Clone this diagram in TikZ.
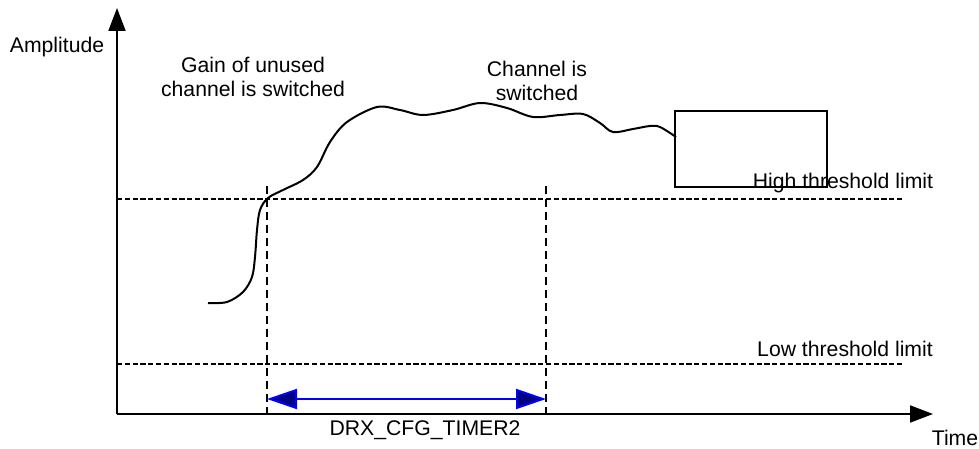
\documentclass[tikz,border=0pt]{standalone}
\usepackage{fontspec}
\setmainfont{Liberation Sans}
\usetikzlibrary{arrows.meta}
\definecolor{navyfill}{RGB}{0,0,128}
\begin{document}
\begin{tikzpicture}[x=0.5pt,y=-0.5pt,
  axis/.style={line width=1pt,-{Triangle[length=11.5pt,width=8.5pt]}},
  hlimit/.style={line width=1pt,dash pattern=on 2.6pt off 1.3pt},
  vlimit/.style={line width=1pt,dash pattern=on 4pt off 2.5pt},
  signal/.style={line width=1pt},
  span/.style={line width=1pt,draw=blue,
    {Triangle[length=15pt,width=10pt,fill=navyfill]}-{Triangle[length=15pt,width=10pt,fill=navyfill]}},
  lbl/.style={font=\fontsize{10.6}{12}\selectfont,align=center,inner sep=0pt},
  boxnode/.style={draw,line width=1pt,minimum width=76pt,minimum height=38pt,inner sep=0pt}
]
\useasboundingbox (0,0) rectangle (979,449);

% axes
\coordinate (O) at (117,414);
\coordinate (ytip) at (117,8);
\coordinate (xtip) at (933,414);
\draw[axis] (O) -- (ytip);
\draw[axis] (O) -- (xtip);
\node[lbl] (amp) at (57,47) {Amplitude};
\node[lbl] (time) at (955,438) {Time};

% threshold limits
\coordinate (hiL) at (117,199);
\coordinate (hiR) at (902,199);
\coordinate (loL) at (117,364);
\coordinate (loR) at (902,364);
\draw[hlimit] (hiL) -- (hiR);
\draw[hlimit] (loL) -- (loR);
\node[lbl] (hitxt) at (843,183) {High threshold limit};
\node[lbl] (lotxt) at (845,349) {Low threshold limit};

% switching instants
\coordinate (v1t) at (267,186);
\coordinate (v1b) at (267,414);
\coordinate (v2t) at (546,186);
\coordinate (v2b) at (546,414);
\draw[vlimit] (v1t) -- (v1b);
\draw[vlimit] (v2t) -- (v2b);

% timer span
\coordinate (s1) at (267,399);
\coordinate (s2) at (546,399);
\draw[span] (s1) -- (s2);
\node[lbl] (timer) at (425,430) {DRX\_CFG\_TIMER2};

% box
\node[boxnode] (box) at (751,149) {};

% signal
\draw[signal] plot[smooth,tension=0.55] coordinates {
  (208,303) (227,302) (243,292) (252,277) (255,257) (257,230) (260,210)
  (268,198) (283,190) (303,180) (317,167) (330,142) (347,122) (377,107)
  (400,110) (423,115) (453,110) (480,103) (507,108) (533,117) (560,115)
  (583,114) (600,123) (613,132) (633,129) (650,126) (660,127) (676,137)};

% annotations
\node[lbl] (gain) at (253,77) {Gain of unused\\channel is switched};
\node[lbl] (chan) at (537,81) {Channel is\\switched};
\end{tikzpicture}
\end{document}
